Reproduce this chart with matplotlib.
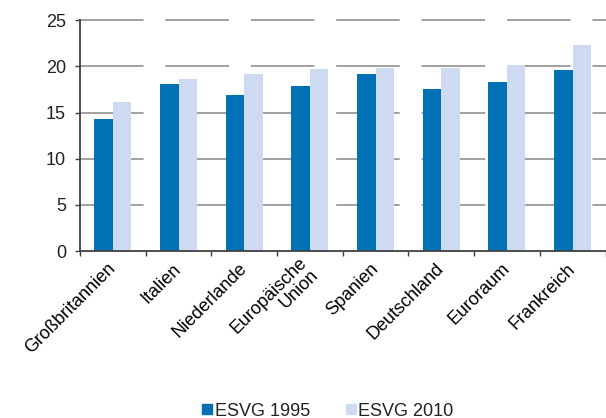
import numpy as np
import matplotlib
matplotlib.use("Agg")
import matplotlib.pyplot as plt
from matplotlib.lines import Line2D

plt.rcParams['font.family'] = ['Liberation Sans', 'DejaVu Sans']

# Daten
laender = ["Großbritannien", "Italien", "Niederlande", "Europäische\nUnion",
           "Spanien", "Deutschland", "Euroraum", "Frankreich"]
esvg_1995 = [14.27, 18.13, 16.93, 17.86, 19.15, 17.6, 18.29, 19.62]
esvg_2010 = [16.2, 18.63, 19.18, 19.77, 19.88, 19.88, 20.13, 22.29]
y_ticks = [0, 5, 10, 15, 20, 25]

col_1995 = "#0071b5"
col_2010 = "#cddaf2"

fig = plt.figure(figsize=(6.06, 4.18), dpi=100)
ax = fig.add_axes([80 / 606, 1 - 251 / 418, 525.5 / 606, 230.7 / 418])

x = np.arange(len(laender))
w = 0.282
ax.bar(x - w / 2, esvg_1995, width=w, color=col_1995, zorder=2)
ax.bar(x + w / 2, esvg_2010, width=w, color=col_2010, zorder=2)

xmin, xmax = -0.5, len(laender) - 0.5
ax.set_xlim(xmin, xmax)
ax.set_ylim(0, 25)
ax.set_yticks(y_ticks)

# Gitterlinien (gestrichelt wie im Original: ca. 63 px Strich, 22 px Lücke)
for yv in y_ticks[1:]:
    ax.plot([xmin, xmax], [yv, yv], color="#9a9a9a", lw=1.3, zorder=1,
            linestyle=(0, (35.2, 12.1)), dash_capstyle="butt", clip_on=False)

# Ticks an den Kategoriegrenzen, Beschriftungen in der Mitte
ax.set_xticks(np.arange(len(laender) + 1) - 0.5)
ax.set_xticklabels([])
ax.set_xticks(x, minor=True)
ax.set_xticklabels(laender, minor=True, rotation=45, ha="right", va="center",
                   rotation_mode="anchor", fontsize=13, multialignment="right",
                   linespacing=1.0)
ax.tick_params(axis="x", which="minor", length=0, pad=11)
ax.tick_params(axis="x", which="major", length=3.6, width=1, color="#404040")
ax.tick_params(axis="y", length=3.6, width=1, color="#404040", labelsize=13,
               pad=6.5, labelcolor="#222222")
ax.tick_params(axis="x", labelcolor="#222222")

for s in ["top", "right"]:
    ax.spines[s].set_visible(False)
for s in ["left", "bottom"]:
    ax.spines[s].set_color("#404040")
    ax.spines[s].set_linewidth(1.3)
ax.spines["bottom"].set_zorder(3)

handles = [Line2D([], [], marker="s", linestyle="none", markersize=6.5,
                  color=col_1995, label="ESVG 1995"),
           Line2D([], [], marker="s", linestyle="none", markersize=6.5,
                  color=col_2010, label="ESVG 2010")]
fig.legend(handles=handles, loc="center", bbox_to_anchor=(328 / 606, 1 - 411 / 418),
           ncol=2, frameon=False, fontsize=13, handlelength=0.5,
           handletextpad=0.15, columnspacing=2.0, borderpad=0, borderaxespad=0,
           labelcolor="#222222")

fig.savefig("out.png", dpi=100)
